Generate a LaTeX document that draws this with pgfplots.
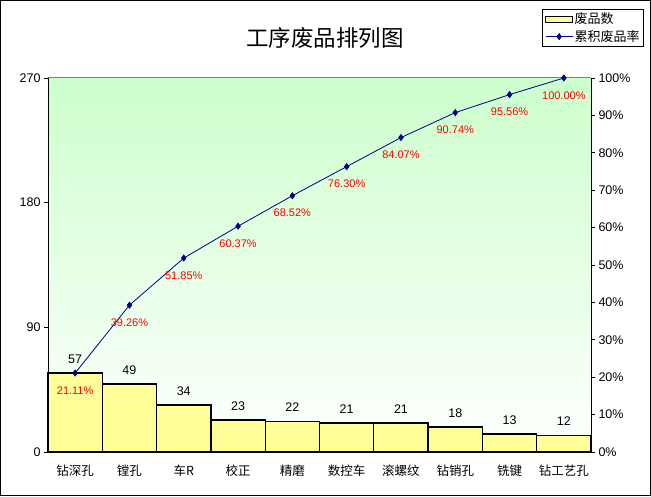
\documentclass[border=0pt]{standalone}
\usepackage{pgfplots}
\pgfplotsset{compat=1.18}
\usepackage{fontspec}
\setmainfont{Liberation Sans}
\newfontfamily\cjk{Noto Sans CJK SC}
\definecolor{barfill}{HTML}{FFFF99}
\definecolor{bggreen}{HTML}{CCFFCC}
\definecolor{navy}{HTML}{000080}
\pgfplotsset{
  myline legend/.style={legend image code/.code={\draw[mark repeat=2,mark phase=2,##1] plot coordinates {(0pt,0pt) (13.5pt,0pt) (27pt,0pt)};}},
  mybar legend/.style={legend image code/.code={\draw[fill=barfill, draw=black, line width=0.8pt] (0pt,-3pt) rectangle (27pt,3pt);}},
}
\begin{document}
\begin{tikzpicture}[x=1pt,y=1pt]
\useasboundingbox (0,0) rectangle (651,496);
\draw[black, line width=1.2pt] (0.6,0.6) rectangle (650.4,495.4);
\node[font=\cjk\fontsize{22.5}{22.5}\selectfont] at (325,458) {工序废品排列图};

\begin{axis}[
 at={(48pt,44pt)}, anchor=south west, scale only axis, width=543pt, height=374pt,
 xmin=-0.5, xmax=9.5, ymin=0, ymax=270,
 axis x line*=bottom, axis y line*=left,
 axis line style={black, line width=1pt},
 axis background/.style={top color=bggreen, bottom color=white},
 ytick={0,90,180,270},
 xtick={0,...,9},
 xticklabels={钻深孔,镗孔,车R,校正,精磨,数控车,滚螺纹,钻销孔,铣键,钻工艺孔},
 xticklabel style={font=\cjk\fontsize{12.5}{12.5}\selectfont, yshift=-5pt},
 x tick style={draw=none},
 tick align=outside, major tick length=4pt,
 y tick style={black, line width=0.8pt},
 yticklabel style={font=\fontsize{12.5}{12.5}\selectfont},
 /pgf/number format/assume math mode=true,
 ybar, bar width=1,
 nodes near coords,
 every node near coord/.append style={font=\fontsize{12.5}{12.5}\selectfont, anchor=south, inner sep=0pt, yshift=9pt, black},
 clip=false,
]
\addplot[fill=barfill, draw=black, line width=1.3pt] coordinates {(0,57) (1,49) (2,34) (3,23) (4,22) (5,21) (6,21) (7,18) (8,13) (9,12)};
\draw[gray, line width=1pt] (rel axis cs:0,1) -- (rel axis cs:1,1);
\end{axis}

\begin{axis}[
 at={(48pt,44pt)}, anchor=south west, scale only axis, width=543pt, height=374pt,
 xmin=-0.5, xmax=9.5, ymin=0, ymax=100,
 axis y line*=right, axis x line=none,
 axis line style={black, line width=1pt},
 ytick={0,10,...,100},
 yticklabel={\pgfmathprintnumber{\tick}\%},
 yticklabel style={font=\fontsize{12.5}{12.5}\selectfont},
 /pgf/number format/assume math mode=true,
 tick align=outside, major tick length=4pt,
 y tick style={black, line width=0.8pt},
 clip=false,
 legend style={at={(1.0976,1.1845)}, anchor=north east, draw=black, line width=0.8pt,
   font=\cjk\fontsize{13}{13}\selectfont, legend cell align=left,
   inner xsep=2.5pt, inner ysep=2pt, row sep=2pt, nodes={inner sep=1.5pt}},
]
\addlegendimage{mybar legend}
\addlegendentry{废品数}
\addplot[navy, line width=0.8pt, mark=diamond*, mark size=3pt, mark options={fill=navy, draw=navy},
  myline legend,
  nodes near coords, point meta=explicit symbolic,
  every node near coord/.append style={red, anchor=north, inner sep=0pt, yshift=-13pt, font=\fontsize{11}{11}\selectfont}]
 coordinates {(0,21.11) [21.11\%] (1,39.26) [39.26\%] (2,51.85) [51.85\%] (3,60.37) [60.37\%] (4,68.52) [68.52\%] (5,76.30) [76.30\%] (6,84.07) [84.07\%] (7,90.74) [90.74\%] (8,95.56) [95.56\%] (9,100) [100.00\%]};
\addlegendentry{累积废品率}
\end{axis}
\end{tikzpicture}
\end{document}
